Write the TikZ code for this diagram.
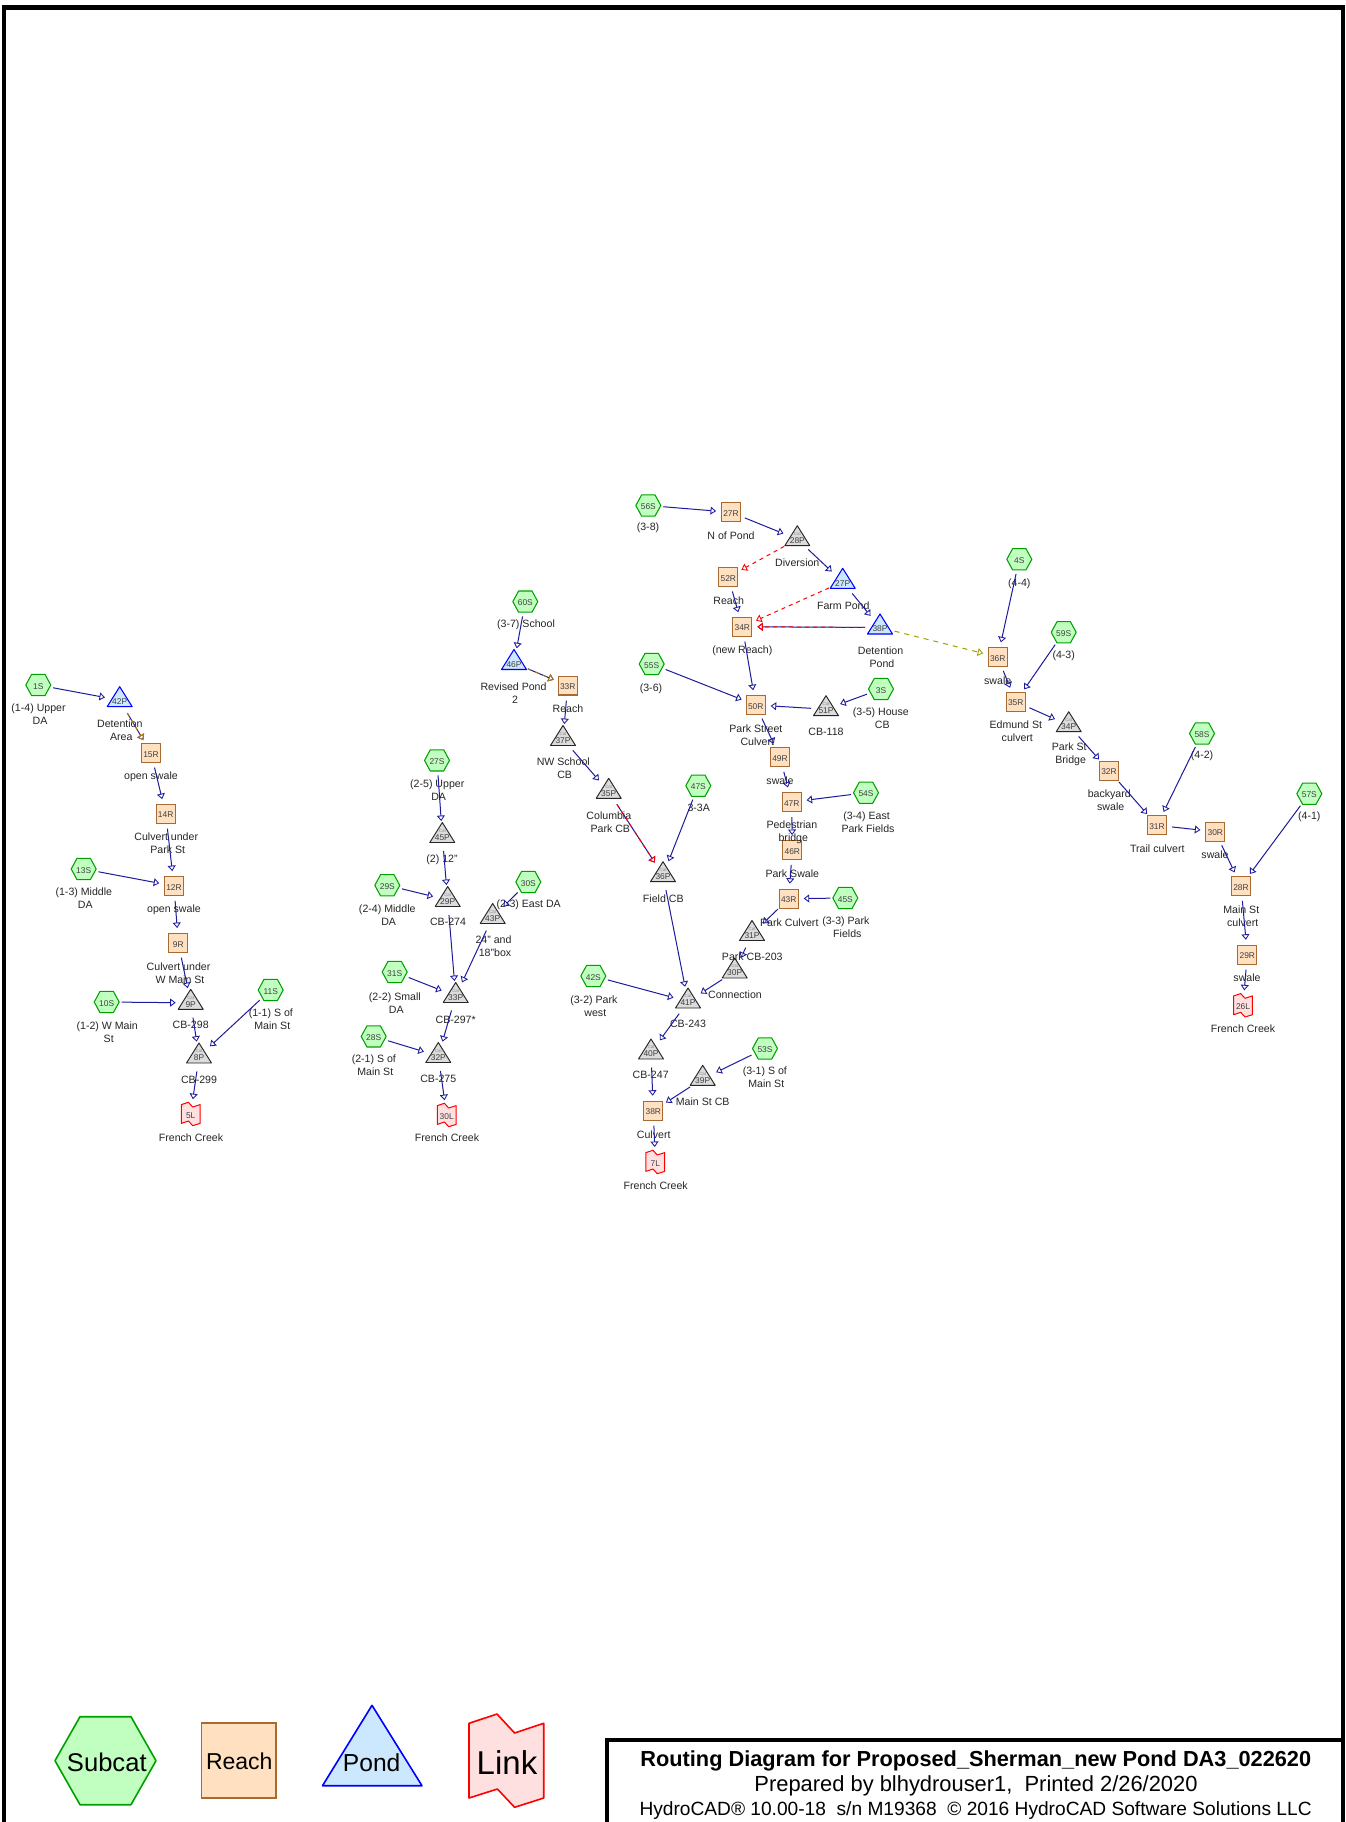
\documentclass[tikz,border=0pt]{standalone}
\usepackage{fontspec}
\setmainfont{Liberation Sans}
\usetikzlibrary{arrows.meta}
\definecolor{flowc}{HTML}{1C1C9C}
\definecolor{hexfill}{HTML}{C0FFC0}
\definecolor{hexdraw}{HTML}{00A000}
\definecolor{reachfill}{HTML}{FFE0C0}
\definecolor{reachdraw}{HTML}{A86A30}
\definecolor{pondfill}{HTML}{CCE8FF}
\definecolor{cbfill}{HTML}{DCDCDC}
\definecolor{linkfill}{HTML}{FFE0E0}
\definecolor{primc}{HTML}{B07A10}
\definecolor{olivec}{HTML}{A0A000}
\tikzset{
  framel/.style={line width=4.4pt,draw=black,line join=miter},
  hexsh/.style={draw=hexdraw,fill=hexfill,line width=1.05pt,line join=round},
  reachsh/.style={draw=reachdraw,fill=reachfill,line width=1.05pt},
  pondsh/.style={draw=blue,fill=pondfill,line width=1.05pt,line join=round},
  cbsh/.style={draw=black!85,fill=cbfill,line width=.95pt,line join=round},
  linksh/.style={draw=red,fill=linkfill,line width=1pt,line join=round},
  numtxt/.style={inner sep=0pt,font=\fontsize{8.4}{9}\selectfont,text height=8.4pt,text depth=0pt,text=black!75},
  cattxt/.style={inner sep=0pt,font=\fontsize{4.4}{5}\selectfont,text=black!45},
  lbl/.style={inner sep=0pt,align=center,font=\fontsize{10.6}{13}\selectfont,text=black!85},
  flowbase/.style={line width=1pt,shorten >=15pt,shorten <=15pt,-{Triangle[open,length=5.5pt,width=8pt,line width=.85pt]}},
  flow/.style={flowbase,draw=flowc},
  overp/.style={flowbase,draw=primc,dash pattern=on 4pt off 4pt},
  overr/.style={flowbase,draw=red,dash pattern=on 4pt off 4pt},
  redash/.style={flowbase,draw=red,dash pattern=on 4pt off 4pt},
  olivedash/.style={flowbase,draw=olivec,dash pattern=on 5pt off 5pt},
  legtxt/.style={inner sep=0pt,text=black},
  titlea/.style={inner sep=0pt,font=\fontsize{21.75}{24}\selectfont\bfseries},
  titleb/.style={inner sep=0pt,font=\fontsize{21.9}{24}\selectfont},
  titlec/.style={inner sep=0pt,font=\fontsize{19.15}{22}\selectfont},
}
\newcommand\tsp{\kern2.9pt}
\newcommand\subcatn[3]{\draw[hexsh,shift={(#2,#3)}] (-12.5,0) -- (-6.7,-10.6) -- (6.7,-10.6) -- (12.5,0) -- (6.7,10.6) -- (-6.7,10.6) -- cycle;
  \node[numtxt] (n#1) at (#2,#3) {#1};}
\newcommand\reachn[3]{\draw[reachsh,shift={(#2,#3)}] (-9.4,-9.4) rectangle (9.4,9.4);
  \node[numtxt] (n#1) at (#2,#3) {#1};}
\newcommand\pondn[3]{\draw[pondsh,shift={(#2,#3)}] (0,-13.5) -- (12.5,6.5) -- (-12.5,6.5) -- cycle;
  \node[numtxt] (n#1) at (#2,#3) {#1};}
\newcommand\cbn[3]{\draw[cbsh,shift={(#2,#3)}] (0,-13.5) -- (12.5,6.5) -- (-12.5,6.5) -- cycle;
  \node[cattxt] (c#1) at (#2,#3-5.3) {Cat};
  \node[numtxt] (n#1) at (#2,#3) {#1};}
\newcommand\linkn[3]{\draw[linksh,shift={(#2,#3)}] (-9.4,-9.4) -- (-2.3,-11.7) -- (2,-7) -- (9.4,-9.4) -- (9.4,9.4) -- (2,11.7) -- (-2.3,7) -- (-9.4,9.4) -- cycle;
  \node[numtxt] (n#1) at (#2,#3) {#1};}
\newcommand\lbln[4]{\node[lbl] (t#1) at (#2,#3) {#4};}
\begin{document}
\begin{tikzpicture}[x=1pt,y=-1pt]
\useasboundingbox (0,0) rectangle (1345,1822);
\fill[white] (0,0) rectangle (1345,1822);
\draw[framel] (3.8,1822) -- (3.8,7.7) -- (1343,7.7) -- (1343,1822);
\draw[framel] (606.8,1822) -- (606.8,1739.7) -- (1343,1739.7);
% group 1
\subcatn{1S}{38.3}{685}
\pondn{42P}{119.7}{700.2}
\reachn{15R}{151}{753}
\reachn{14R}{165.7}{813.7}
\reachn{12R}{174}{886}
\reachn{9R}{178.3}{943}
\subcatn{13S}{83.7}{869}
\subcatn{10S}{106.7}{1002}
\subcatn{11S}{270.7}{990}
\cbn{9P}{190.7}{1002.8}
\cbn{8P}{199}{1056.5}
\linkn{5L}{190.7}{1114}
\lbln{1S}{40}{713.8}{(1-4) Upper\tsp\\DA}
\lbln{42P}{121.3}{729.8}{Detention\tsp\\Area}
\lbln{15R}{151}{776.7}{open swale}
\lbln{14R}{167.7}{843.3}{Culvert under\tsp\\Park St}
\lbln{13S}{85.3}{898.3}{(1-3) Middle\tsp\\DA}
\lbln{12R}{174}{909.7}{open swale}
\lbln{9R}{180}{972.8}{Culvert under\tsp\\W Main St}
\lbln{10S}{108.7}{1031.8}{(1-2) W Main\tsp\\St}
\lbln{9P}{190.7}{1025.3}{CB-298}
\lbln{11S}{272.3}{1019.2}{(1-1) S of\tsp\\Main St}
\lbln{8P}{199}{1080.3}{CB-299}
\lbln{5L}{191}{1137.3}{French Creek}
% group 2
\subcatn{27S}{437}{760.4}
\cbn{45P}{442.3}{836}
\subcatn{29S}{387.3}{885.3}
\cbn{29P}{447.7}{900}
\subcatn{30S}{528.3}{882}
\cbn{43P}{492.7}{917}
\subcatn{31S}{394.7}{972}
\cbn{33P}{455.7}{996}
\subcatn{28S}{373.7}{1036.4}
\cbn{32P}{438.3}{1056}
\linkn{30L}{446.7}{1115}
\lbln{27S}{438.7}{790}{(2-5) Upper\tsp\\DA}
\lbln{45P}{442}{860}{(2) 12"}
\lbln{29S}{388.7}{915}{(2-4) Middle\tsp\\DA}
\lbln{29P}{448}{922}{CB-274}
\lbln{30S}{528.7}{905}{(2-3) East DA}
\lbln{43P}{495}{946.5}{24" and\tsp\\18"box}
\lbln{31S}{396.3}{1002.7}{(2-2) Small\tsp\\DA}
\lbln{33P}{455.7}{1020}{CB-297*}
\lbln{28S}{375.3}{1065.2}{(2-1) S of\tsp\\Main St}
\lbln{32P}{438.3}{1079}{CB-275}
\lbln{30L}{447}{1138}{French Creek}
% group 3
\subcatn{60S}{525.3}{601.6}
\pondn{46P}{514}{663}
\reachn{33R}{567.7}{685.6}
\cbn{37P}{563}{739}
\subcatn{56S}{648.3}{505.5}
\reachn{27R}{731}{512.3}
\cbn{28P}{797.3}{539.2}
\reachn{52R}{728.3}{577}
\pondn{27P}{842.7}{581.8}
\reachn{34R}{742.3}{626.7}
\pondn{38P}{880}{627.5}
\subcatn{55S}{651.7}{664}
\reachn{50R}{755.7}{705}
\cbn{51P}{826}{709.2}
\subcatn{3S}{881}{689}
\reachn{49R}{780}{757.3}
\reachn{47R}{791.7}{802}
\subcatn{54S}{866}{792.7}
\reachn{46R}{792.3}{850}
\cbn{35P}{608.7}{791.8}
\subcatn{47S}{698.3}{785.7}
\cbn{36P}{663}{875.2}
\reachn{43R}{788.7}{898.7}
\subcatn{45S}{845.3}{898}
\cbn{31P}{752}{934}
\cbn{30P}{734.7}{971.5}
\cbn{41P}{688}{1001.5}
\subcatn{42S}{593.3}{976}
\cbn{40P}{651}{1052.5}
\subcatn{53S}{765}{1048.5}
\cbn{39P}{702.7}{1078.8}
\reachn{38R}{653.3}{1110.7}
\linkn{7L}{655.3}{1162}
\lbln{60S}{526}{624.3}{(3-7) School}
\lbln{46P}{515}{692.8}{Revised Pond\tsp\\2}
\lbln{33R}{568}{709}{Reach}
\lbln{37P}{564.7}{768.5}{NW School\tsp\\CB}
\lbln{56S}{648}{528.2}{(3-8)}
\lbln{27R}{731}{535.3}{N of Pond}
\lbln{28P}{797.3}{562.3}{Diversion}
\lbln{52R}{728.7}{600.3}{Reach}
\lbln{27P}{843.3}{605.3}{Farm Pond}
\lbln{34R}{742.3}{650.3}{(new Reach)}
\lbln{38P}{882}{657}{Detention\tsp\\Pond}
\lbln{55S}{651}{688.4}{(3-6)}
\lbln{3S}{882.3}{717.8}{(3-5) House\tsp\\CB}
\lbln{51P}{826}{732.3}{CB-118}
\lbln{50R}{757.3}{734.8}{Park Street\tsp\\Culvert}
\lbln{49R}{780}{780.7}{swale}
\lbln{54S}{868}{821.8}{(3-4) East\tsp\\Park Fields}
\lbln{47R}{793.3}{831.8}{Pedestrian\tsp\\bridge}
\lbln{46R}{792.3}{873.3}{Park Swale}
\lbln{47S}{698.7}{808.3}{3-3A}
\lbln{35P}{610.3}{821.8}{Columbia\tsp\\Park CB}
\lbln{36P}{663.3}{898.3}{Field CB}
\lbln{43R}{789.3}{922.3}{Park Culvert}
\lbln{45S}{847.3}{926.8}{(3-3) Park\tsp\\Fields}
\lbln{31P}{752.3}{957}{Park CB-203}
\lbln{30P}{735}{994.3}{Connection}
\lbln{42S}{595.3}{1005.8}{(3-2) Park\tsp\\west}
\lbln{41P}{688}{1024.3}{CB-243}
\lbln{40P}{650.7}{1075.3}{CB-247}
\lbln{39P}{702.7}{1102}{Main St CB}
\lbln{53S}{766.3}{1077.5}{(3-1) S of\tsp\\Main St}
\lbln{38R}{653.7}{1134.3}{Culvert}
\lbln{7L}{655.7}{1185.3}{French Creek}
% group 4
\subcatn{4S}{1019.3}{559.3}
\reachn{36R}{997.7}{657}
\subcatn{59S}{1063.7}{632.3}
\reachn{35R}{1015.7}{701.7}
\cbn{34P}{1068.7}{725.2}
\reachn{32R}{1109}{770.7}
\subcatn{58S}{1202}{733.5}
\reachn{31R}{1157}{825.3}
\reachn{30R}{1215.3}{831.7}
\subcatn{57S}{1309.3}{793.7}
\reachn{28R}{1241}{886}
\reachn{29R}{1247.3}{954.7}
\linkn{26L}{1243}{1005.3}
\lbln{4S}{1019.3}{583.5}{(4-4)}
\lbln{36R}{997.7}{680.3}{swale}
\lbln{59S}{1063.7}{655.7}{(4-3)}
\lbln{35R}{1017.3}{731.3}{Edmund St\tsp\\culvert}
\lbln{34P}{1070.7}{754.3}{Park St\tsp\\Bridge}
\lbln{32R}{1110.7}{800.5}{backyard\tsp\\swale}
\lbln{58S}{1202}{755.7}{(4-2)}
\lbln{31R}{1157.3}{848.3}{Trail culvert}
\lbln{30R}{1215}{854.7}{swale}
\lbln{57S}{1309.3}{816.7}{(4-1)}
\lbln{28R}{1242.7}{915.8}{Main St\tsp\\culvert}
\lbln{29R}{1247}{977.7}{swale}
\lbln{26L}{1243}{1028.3}{French Creek}
% connectors
\foreach \a/\b in {1S/42P,42P/15R,15R/14R,14R/12R,13S/12R,12R/9R,9R/9P,10S/9P,9P/8P,11S/8P,8P/5L,
  27S/45P,45P/29P,29S/29P,29P/33P,30S/43P,43P/33P,31S/33P,33P/32P,28S/32P,32P/30L,
  60S/46P,46P/33R,33R/37P,37P/35P,35P/36P,47S/36P,36P/41P,42S/41P,30P/41P,31P/30P,43R/31P,45S/43R,46R/43R,47R/46R,54S/47R,49R/47R,50R/49R,55S/50R,51P/50R,3S/51P,34R/50R,52R/34R,27R/28P,56S/27R,28P/27P,27P/38P,38P/34R,
  41P/40P,40P/38R,39P/38R,53S/39P,38R/7L,
  4S/36R,36R/35R,59S/35R,35R/34P,34P/32R,32R/31R,58S/31R,31R/30R,30R/28R,57S/28R,28R/29R,29R/26L}
  {\draw[flow] (n\a.center) -- (n\b.center);}
\draw[overp] (n42P.center) -- (n15R.center);
\draw[overp] (n46P.center) -- (n33R.center);
\draw[overr] (n35P.center) -- (n36P.center);
\draw[overr] (n38P.center) -- (n34R.center);
\draw[redash] (n28P.center) -- (n52R.center);
\draw[redash] (n27P.center) -- (n34R.center);
\draw[olivedash] (n38P.center) -- (n36R.center);
% legend
\draw[hexsh,line width=1.6pt] (55,1760.7) -- (80,1716.7) -- (131,1716.7) -- (156,1760.7) -- (131,1804.7) -- (80,1804.7) -- cycle;
\draw[reachsh,line width=1.6pt] (201.5,1723.2) rectangle (276,1798);
\draw[pondsh,line width=1.6pt] (372,1705.3) -- (422,1785.7) -- (322.5,1785.7) -- cycle;
\draw[linksh,line width=1.6pt] (469,1723.3) -- (497,1714) -- (514.6,1733) -- (543.7,1723.3) -- (543.7,1798) -- (514.6,1807.3) -- (497.4,1789) -- (469,1798) -- cycle;
\node[legtxt,font=\fontsize{25.6}{28}\selectfont] (legS) at (106.8,1762) {Subcat};
\node[legtxt,font=\fontsize{23}{25}\selectfont] (legR) at (239.3,1761.5) {Reach};
\node[legtxt,font=\fontsize{24.6}{27}\selectfont] (legP) at (371.7,1763) {Pond};
\node[legtxt,font=\fontsize{33}{35}\selectfont] (legL) at (507,1763) {Link};
% title
\node[titlea] (ttlA) at (975.8,1761) {Routing Diagram for Proposed\_Sherman\_new Pond DA3\_022620};
\node[titleb] (ttlB) at (976,1785.5) {Prepared by blhydrouser1,\ \ Printed 2/26/2020};
\node[titlec] (ttlC) at (975.6,1810.5) {HydroCAD® 10.00-18\ \ s/n M19368\ \ © 2016 HydroCAD Software Solutions LLC};
\end{tikzpicture}
\end{document}
